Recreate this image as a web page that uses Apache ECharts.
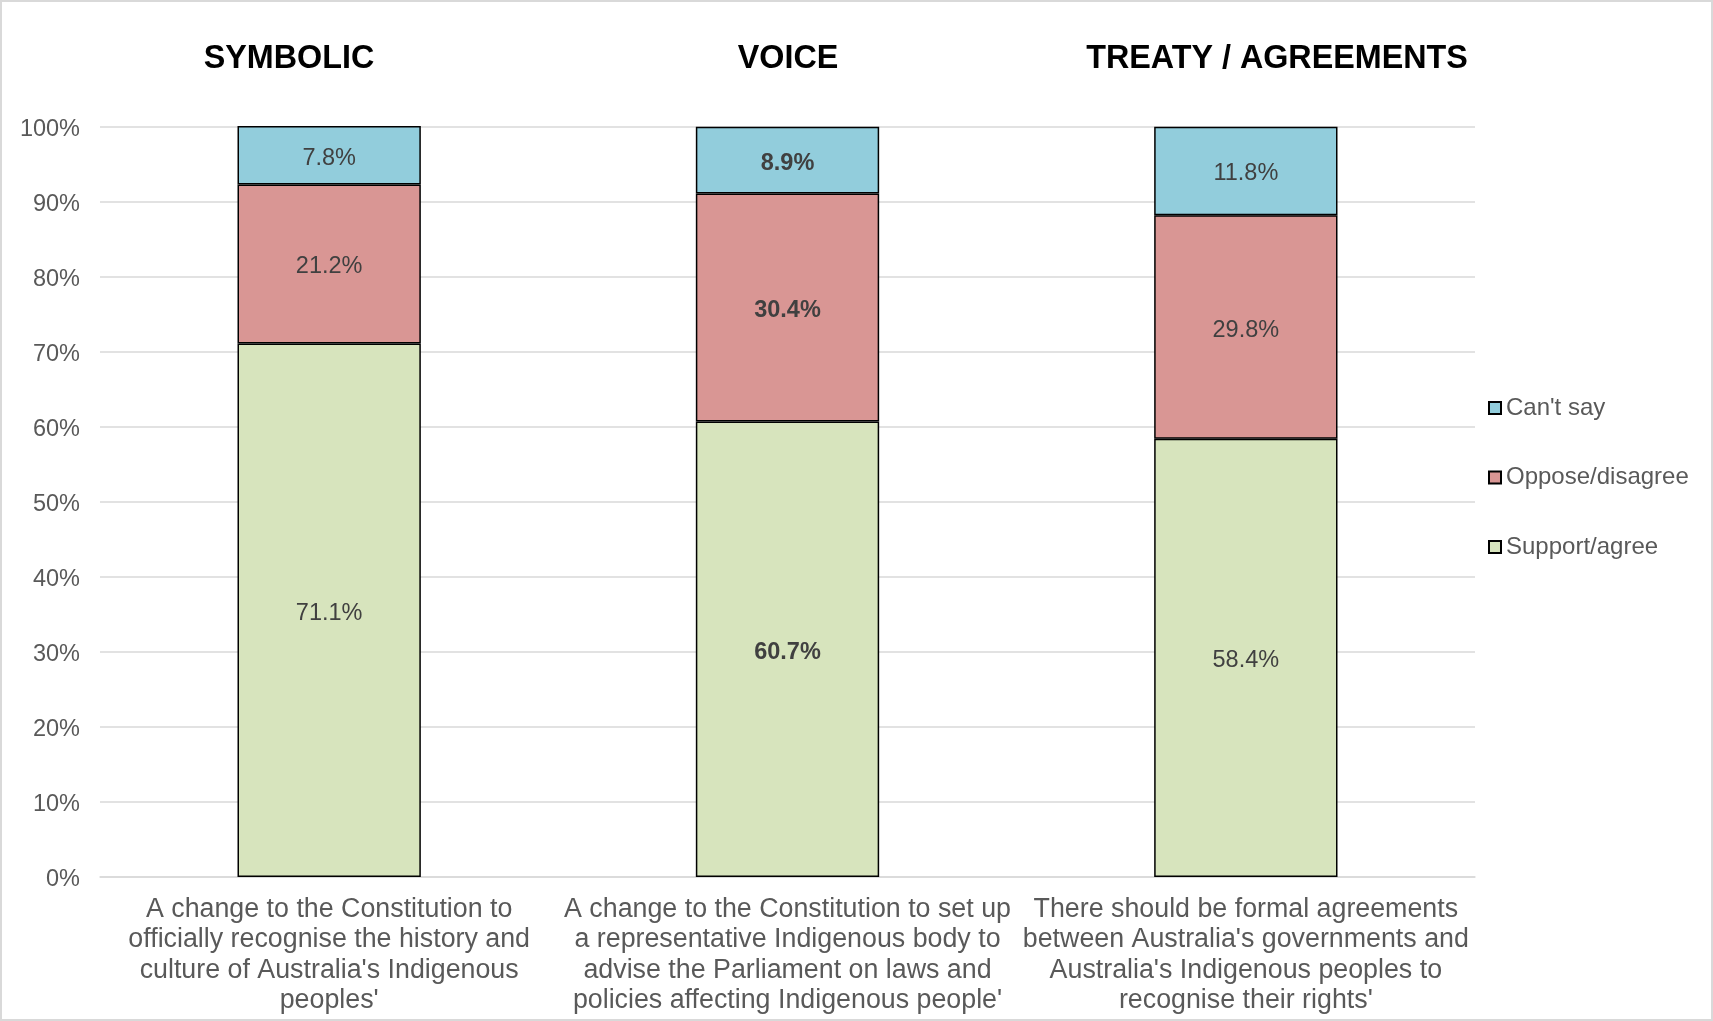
<!DOCTYPE html>
<html>
<head>
<meta charset="utf-8">
<script src="https://cdn.jsdelivr.net/npm/echarts@6/dist/echarts.min.js"></script>
<style>
html,body{margin:0;padding:0;background:#fff;}
#c{width:1713px;height:1021px;}
</style>
</head>
<body>
<div id="c"></div>
<script>
const categories = [
  "A change to the Constitution to\nofficially recognise the history and\nculture of Australia's Indigenous\npeoples'",
  "A change to the Constitution to set up\na representative Indigenous body to\nadvise the Parliament on laws and\npolicies affecting Indigenous people'",
  "There should be formal agreements\nbetween Australia's governments and\nAustralia's Indigenous peoples to\nrecognise their rights'"
];
const groupTitles = ["SYMBOLIC", "VOICE", "TREATY / AGREEMENTS"];
const supportAgree = [71.1, 60.7, 58.4];
const opposeDisagree = [21.2, 30.4, 29.8];
const cantSay = [7.8, 8.9, 11.8];
const yTicks = [0, 10, 20, 30, 40, 50, 60, 70, 80, 90, 100];
const boldIndex = 1;

const FONT = "'Liberation Sans', Arial, sans-serif";
const chart = echarts.init(document.getElementById('c'), null, {renderer: 'canvas'});

function mkData(arr) {
  return arr.map((v, i) => ({
    value: v,
    label: { fontWeight: i === boldIndex ? 'bold' : 'normal' }
  }));
}
function mkSeries(name, arr, color) {
  return {
    name: name,
    type: 'bar',
    stack: 'total',
    barWidth: '40%',
    data: mkData(arr),
    itemStyle: { color: color, borderColor: '#000', borderWidth: 1.5 },
    label: {
      show: true,
      position: 'inside',
      offset: [0, 3],
      formatter: p => p.value.toFixed(1) + '%',
      color: '#404040',
      fontSize: 23.5,
      fontFamily: FONT
    },
    emphasis: { disabled: true }
  };
}

const titleX = [284, 783, 1272];
chart.setOption({
  backgroundColor: '#fff',
  animation: false,
  title: groupTitles.map((t, i) => ({
    text: t,
    left: titleX[i],
    top: 38,
    textAlign: 'center',
    textStyle: { fontSize: 32.3, fontWeight: 'bold', color: '#000', fontFamily: FONT }
  })),
  grid: { left: 100, right: 238, top: 126.7, bottom: 144, containLabel: false },
  legend: {
    orient: 'vertical',
    left: 1483,
    top: 391,
    itemWidth: 12,
    itemHeight: 12,
    itemGap: 45.5,
    itemTextGap: 6,
    icon: 'rect',
    data: ["Can't say", 'Oppose/disagree', 'Support/agree'],
    textStyle: { fontSize: 24, color: '#595959', fontFamily: FONT, lineHeight: 24 }
  },
  xAxis: {
    type: 'category',
    data: categories,
    axisTick: { show: false },
    axisLine: { lineStyle: { color: '#d9d9d9', width: 1.5 } },
    axisLabel: {
      interval: 0,
      color: '#595959',
      fontSize: 26.8,
      lineHeight: 30.5,
      margin: 17,
      fontFamily: FONT
    }
  },
  yAxis: {
    type: 'value',
    min: yTicks[0],
    max: yTicks[yTicks.length - 1],
    interval: 10,
    axisLine: { show: false },
    axisTick: { show: false },
    splitLine: { lineStyle: { color: '#d9d9d9', width: 1.5 } },
    axisLabel: {
      formatter: v => '{a|' + v + '%}',
      margin: 20,
      rich: {
        a: {
          color: '#595959',
          fontSize: 23.5,
          fontFamily: FONT,
          padding: [5, 0, 0, 0]
        }
      }
    }
  },
  series: [
    mkSeries('Support/agree', supportAgree, '#D7E4BD'),
    mkSeries('Oppose/disagree', opposeDisagree, '#D99694'),
    mkSeries("Can't say", cantSay, '#92CDDC')
  ],
  graphic: [{
    type: 'rect',
    shape: { x: 1, y: 1, width: 1711, height: 1019 },
    style: { fill: 'none', stroke: '#d9d9d9', lineWidth: 2 },
    silent: true
  }]
});
</script>
</body>
</html>
